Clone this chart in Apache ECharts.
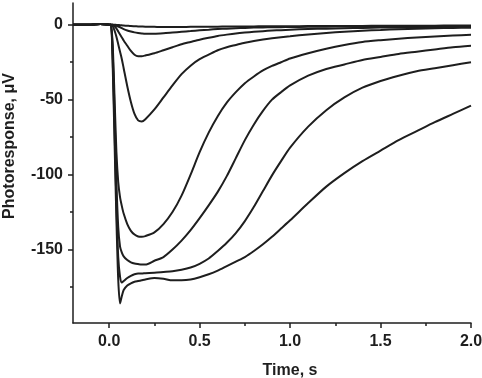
<!DOCTYPE html>
<html>
<head>
<meta charset="utf-8">
<script src="https://cdn.jsdelivr.net/npm/echarts@6/dist/echarts.min.js"></script>
<style>html,body{margin:0;padding:0;background:#fff;}#c{width:482px;height:378px;}</style>
</head>
<body>
<div id="c"></div>
<script>
const times = [-0.2, -0.1, -0.05, 0, 0.01, 0.02, 0.03, 0.04, 0.05, 0.06, 0.07, 0.08, 0.1, 0.12, 0.14, 0.16, 0.18, 0.2, 0.25, 0.3, 0.35, 0.4, 0.45, 0.5, 0.55, 0.6, 0.65, 0.7, 0.75, 0.8, 0.85, 0.9, 0.95, 1.0, 1.1, 1.2, 1.3, 1.4, 1.5, 1.6, 1.7, 1.8, 1.9, 2.0];
const c1 = [0, 0, 0.5, 0, 0, 0, 0, -0.1, -0.2, -0.3, -0.4, -0.5, -0.7, -0.9, -1, -1.1, -1.2, -1.3, -1.4, -1.5, -1.5, -1.5, -1.4, -1.4, -1.3, -1.3, -1.2, -1.2, -1.1, -1.1, -1, -1, -1, -1, -0.9, -0.9, -0.8, -0.8, -0.7, -0.7, -0.6, -0.6, -0.5, -0.5];
const c2 = [0, 0, 0.5, 0, 0, 0, -0.3, -0.7, -1.2, -1.7, -2.3, -2.9, -3.8, -4.5, -5.1, -5.5, -5.8, -6, -6, -5.7, -5.2, -4.7, -4.2, -3.7, -3.3, -2.9, -2.6, -2.3, -2.1, -1.9, -1.8, -1.7, -1.6, -1.5, -1.4, -1.3, -1.2, -1.2, -1.1, -1.1, -1, -1, -1, -1];
const c3 = [0, 0, 0.5, 0, 0, 0, -1, -2.5, -4.5, -6.5, -8.5, -10.5, -14, -17.5, -20, -21, -21, -20.5, -19, -17, -15, -13, -11.5, -10, -8.7, -7.5, -6.6, -5.8, -5.2, -4.7, -4.3, -3.9, -3.6, -3.3, -2.9, -2.6, -2.3, -2.1, -1.9, -1.8, -1.7, -1.6, -1.5, -1.5];
const c4 = [0, 0, 0.5, 0, 0, -1, -4, -8, -13, -18, -23, -29, -41, -51.5, -59.5, -63.8, -64.5, -63, -56.5, -48.5, -40.5, -33, -27.3, -23, -20, -17, -15, -13.5, -12, -10.8, -9.8, -9, -8.3, -7.7, -6.5, -5.5, -4.7, -4, -3.5, -3, -2.7, -2.4, -2.1, -2];
const c5 = [0, 0, 0.5, 0, 0, -15, -50, -85, -105, -115, -121, -126, -133, -137.5, -140, -141.3, -141.5, -141, -138.5, -133, -125, -114, -100, -85, -72, -61, -52, -45, -39, -34.5, -30.5, -27.5, -25, -22.5, -19, -16, -13.5, -11.5, -10.3, -9.3, -8.5, -7.8, -7.2, -6.7];
const c6 = [0, 0, 0.5, 0, 0, -20, -60, -105, -135, -148, -152, -154.5, -157, -158.5, -159.3, -159.7, -160, -160, -157.5, -155, -150, -144, -137, -129, -120.5, -111.5, -101, -89, -77, -66.5, -57.5, -50, -45, -40.5, -34, -29.5, -26.5, -23.5, -21.5, -19.5, -18, -16.5, -15, -14];
const c7 = [0, 0, 0.5, 0, 0, -25, -70, -120, -155, -168, -172, -171, -169, -167.5, -166.5, -166, -166, -165.8, -165.5, -165, -164.5, -163.5, -162, -159.5, -156, -151, -145.5, -139, -131, -121.5, -111, -100.5, -91, -82, -68, -57, -48.5, -42, -37.5, -34, -31, -29, -27, -25];
const c8 = [0, 0, 0.5, 0, 0, -30, -80, -130, -170, -186, -181, -177, -174, -172.5, -171.5, -171, -170.5, -170, -169, -169.5, -170.5, -170.5, -170, -168.5, -166.5, -164, -161, -158, -155, -151, -146.5, -141.5, -136, -130.5, -119, -108, -99, -91, -84, -77, -71, -65, -59.5, -54];
const curves = [c1, c2, c3, c4, c5, c6, c7, c8];

const xMajor = [0, 0.5, 1.0, 1.5, 2.0];
const xMinor = [0.25, 0.75, 1.25, 1.75];
const yMajor = [0, -50, -100, -150];
const yMinor = [-25, -75, -125, -175];

const ink = '#1e1e1e';
const font = "'Liberation Sans', Arial, sans-serif";

const chart = echarts.init(document.getElementById('c'), null, {renderer: 'canvas'});
chart.setOption({
  animation: false,
  backgroundColor: '#fff',
  grid: {left: 73, right: 11, top: 3, bottom: 55, containLabel: false, outerBoundsMode: 'none'},
  xAxis: [{
    type: 'value', min: -0.2, max: 2.0, position: 'bottom',
    axisLine: {onZero: false, lineStyle: {color: ink, width: 1.5}},
    axisTick: {customValues: xMajor, length: 5, lineStyle: {color: ink, width: 1.5}},
    axisLabel: {customValues: xMajor, formatter: v => v.toFixed(1), color: ink, fontWeight: 'bold', fontSize: 16, fontFamily: font, margin: 11},
    splitLine: {show: false},
    name: 'Time, s', nameLocation: 'middle', nameGap: 40,
    nameTextStyle: {color: ink, fontWeight: 'bold', fontSize: 16, fontFamily: font, padding: [0, 0, 0, 36]}
  }, {
    type: 'value', min: -0.2, max: 2.0, position: 'bottom',
    axisLine: {show: false, onZero: false},
    axisTick: {customValues: xMinor, length: 3, lineStyle: {color: ink, width: 1.5}},
    axisLabel: {show: false},
    splitLine: {show: false}
  }],
  yAxis: [{
    type: 'value', min: -199, max: 14.5, position: 'left',
    axisLine: {show: true, onZero: false, lineStyle: {color: ink, width: 1.5}},
    axisTick: {show: true, customValues: yMajor, length: 5, lineStyle: {color: ink, width: 1.5}},
    axisLabel: {customValues: yMajor, color: ink, fontWeight: 'bold', fontSize: 16, fontFamily: font, margin: 10},
    splitLine: {show: false},
    name: 'Photoresponse, μV', nameLocation: 'middle', nameGap: 55, nameRotate: 90,
    nameTextStyle: {color: ink, fontWeight: 'bold', fontSize: 16, fontFamily: font, padding: [0, 0, 0, 34]}
  }, {
    type: 'value', min: -199, max: 14.5, position: 'left',
    axisLine: {show: false, onZero: false},
    axisTick: {show: true, customValues: yMinor, length: 3, lineStyle: {color: ink, width: 1.5}},
    axisLabel: {show: false},
    splitLine: {show: false}
  }],
  series: curves.map(c => ({
    type: 'line',
    xAxisIndex: 0, yAxisIndex: 0,
    data: times.map((t, i) => [t, c[i]]),
    showSymbol: false,
    smooth: 0.25,
    lineStyle: {color: ink, width: 2},
    z: 3
  }))
});
</script>
</body>
</html>
